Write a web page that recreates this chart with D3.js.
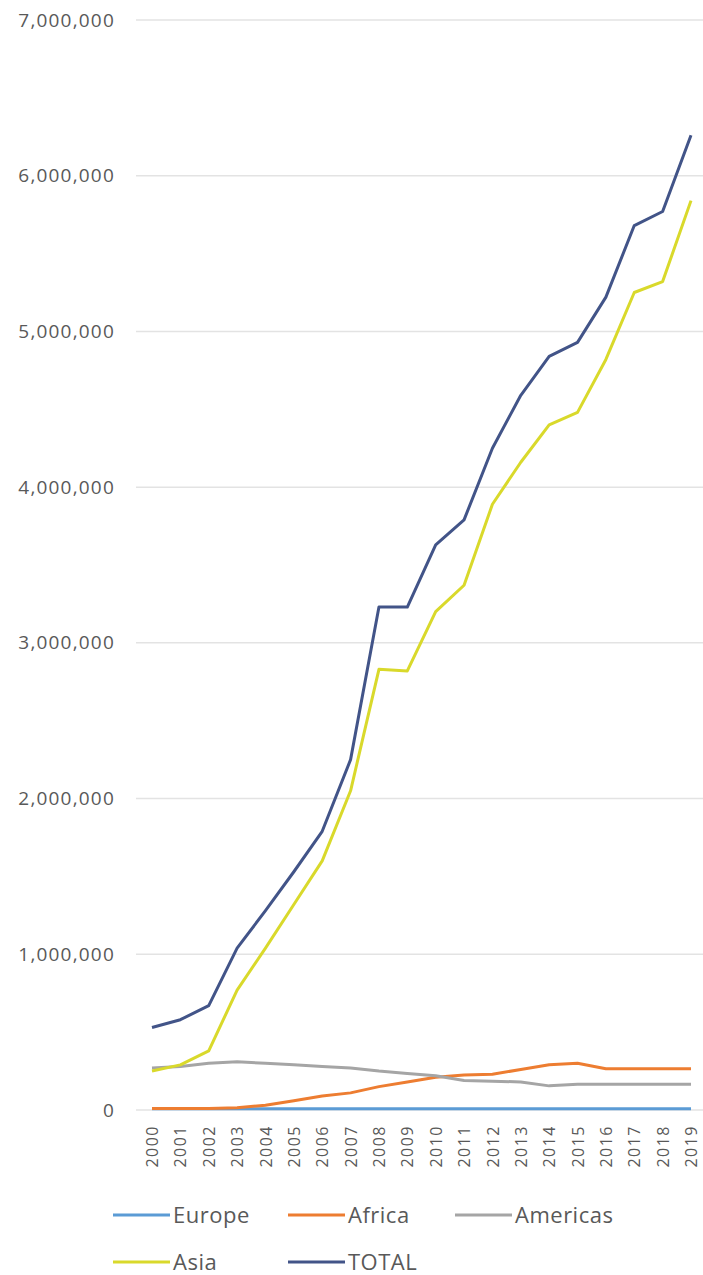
<!DOCTYPE html>
<html lang="en">
<head>
    <meta charset="UTF-8" />
    <title>Line chart by region</title>
    <script src="https://d3js.org/d3.v7.min.js"></script>
    <style>
        body { margin: 0; background: #fff; }
        text { font-family: "Open Sans", sans-serif; fill: #595959; }
    </style>
</head>
<body>
    <svg width="703" height="1275"></svg>
    <script>
        const years = ["2000", "2001", "2002", "2003", "2004", "2005", "2006", "2007", "2008", "2009",
            "2010", "2011", "2012", "2013", "2014", "2015", "2016", "2017", "2018", "2019"];

        const europe = [8000, 8000, 8000, 8000, 8000, 8000, 8000, 8000, 8000, 8000,
            8000, 8000, 8000, 8000, 8000, 8000, 8000, 8000, 8000, 8000];
        const africa = [10000, 10000, 10000, 15000, 30000, 60000, 90000, 110000, 150000, 180000,
            210000, 225000, 230000, 260000, 290000, 300000, 265000, 265000, 265000, 265000];
        const americas = [270000, 280000, 300000, 310000, 300000, 290000, 280000, 270000, 250000, 235000,
            220000, 190000, 185000, 180000, 155000, 165000, 165000, 165000, 165000, 165000];
        const asia = [250000, 290000, 380000, 770000, 1040000, 1320000, 1600000, 2050000, 2830000, 2820000,
            3200000, 3370000, 3890000, 4160000, 4400000, 4480000, 4820000, 5250000, 5320000, 5840000];
        const total = [530000, 580000, 670000, 1040000, 1280000, 1530000, 1790000, 2250000, 3230000, 3230000,
            3630000, 3790000, 4250000, 4590000, 4840000, 4930000, 5220000, 5680000, 5770000, 6260000];

        const yTicks = [0, 1000000, 2000000, 3000000, 4000000, 5000000, 6000000, 7000000];

        const series = [
            { name: "Europe", values: europe, color: "#5b9bd5" },
            { name: "Africa", values: africa, color: "#ed7d31" },
            { name: "Americas", values: americas, color: "#a5a5a5" },
            { name: "Asia", values: asia, color: "#d9d92b" },
            { name: "TOTAL", values: total, color: "#425488" }
        ];

        const svg = d3.select("svg");

        const x = d3.scalePoint().domain(years).range([152, 691]);
        const y = d3.scaleLinear().domain([0, 7000000]).range([1110, 20]);

        // gridlines
        svg.append("g")
            .selectAll("line")
            .data(yTicks)
            .enter()
            .append("line")
            .attr("x1", 136)
            .attr("x2", 703)
            .attr("y1", d => y(d))
            .attr("y2", d => y(d))
            .attr("stroke", "#e3e3e3")
            .attr("stroke-width", 1.5);

        // y axis labels
        const yAxis = d3.axisLeft(y)
            .tickValues(yTicks)
            .tickSize(0)
            .tickPadding(0)
            .tickFormat(d3.format(","));
        svg.append("g")
            .attr("transform", "translate(115,0)")
            .call(yAxis)
            .call(g => g.select(".domain").remove())
            .selectAll("text")
            .attr("font-size", "19px")
            .attr("letter-spacing", "1.2px")
            .attr("font-family", "Open Sans, sans-serif")
            .attr("fill", "#5f5f5f");

        // x axis labels, rotated
        const xAxis = d3.axisBottom(x).tickSize(0).tickPadding(0);
        svg.append("g")
            .attr("transform", "translate(0,1125)")
            .call(xAxis)
            .call(g => g.select(".domain").remove())
            .selectAll("text")
            .attr("font-size", "16px")
            .attr("letter-spacing", "1.5px")
            .attr("font-family", "Open Sans, sans-serif")
            .attr("fill", "#5f5f5f")
            .attr("text-anchor", "end")
            .attr("transform", "rotate(-90)")
            .attr("x", 0)
            .attr("y", 0)
            .attr("dy", "0.35em");

        // lines
        const line = d3.line()
            .x((d, i) => x(years[i]))
            .y(d => y(d));

        svg.append("g")
            .selectAll("path")
            .data(series)
            .enter()
            .append("path")
            .attr("d", d => line(d.values))
            .attr("fill", "none")
            .attr("stroke", d => d.color)
            .attr("stroke-width", 3)
            .attr("stroke-linejoin", "round");

        // legend
        const legendPos = [
            { x: 113, y: 1215 }, { x: 288, y: 1215 }, { x: 455, y: 1215 },
            { x: 113, y: 1262 }, { x: 288, y: 1262 }
        ];
        const legend = svg.append("g")
            .selectAll("g")
            .data(series)
            .enter()
            .append("g")
            .attr("transform", (d, i) => `translate(${legendPos[i].x},${legendPos[i].y})`);

        legend.append("line")
            .attr("x1", 0)
            .attr("x2", 57)
            .attr("stroke", d => d.color)
            .attr("stroke-width", 3);

        legend.append("text")
            .attr("x", 60)
            .attr("dy", "0.35em")
            .attr("font-size", "22px")
            .attr("letter-spacing", "0.5px")
            .text(d => d.name);
    </script>
</body>
</html>
